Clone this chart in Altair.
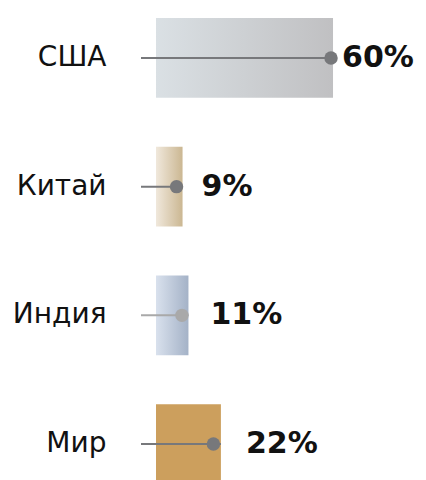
import altair as alt
import pandas as pd

categories = ["США", "Китай", "Индия", "Мир"]
values = [60, 9, 11, 22]
labels = ["60%", "9%", "11%", "22%"]

# per-row styles
bar_fills = [
    ("#dae0e4", "#c0c0c2"),
    ("#f0e8dc", "#cbb792"),
    ("#d9e1ed", "#a4b2c7"),
    ("#cc9f5d", "#cc9f5d"),
]
line_colors = ["#77787b", "#77787b", "#a9a9a9", "#77787b"]
dot_colors = ["#77787b", "#77787b", "#a9a9a9", "#77787b"]
dot_shift = [-2, -6, -6.5, -7.5]
label_shift = [9, 19, 22, 25]

df = pd.DataFrame({"cat": categories, "value": values, "label": labels})

x_scale = alt.Scale(domain=[0, 88.8], nice=False, zero=True)
y_enc = alt.Y(
    "cat:N",
    sort=categories,
    scale=alt.Scale(range=[0, 486], paddingInner=0.38, paddingOuter=0.078),
    axis=alt.Axis(
        title=None, ticks=False, tickSize=0, domain=False, grid=False,
        labelPadding=50, labelFontSize=28, labelFont="DejaVu Sans",
        labelColor="#111111", labelFontWeight="normal",
    ),
)

base = alt.Chart(df)
layers = []
for i, cat in enumerate(categories):
    c0, c1 = bar_fills[i]
    grad = alt.Gradient(
        gradient="linear",
        stops=[alt.GradientStop(color=c0, offset=0), alt.GradientStop(color=c1, offset=1)],
        x1=0, x2=1, y1=0, y2=0,
    )
    sub = base.transform_filter(alt.datum.cat == cat)
    layers.append(
        sub.mark_bar(color=grad).encode(
            x=alt.X("value:Q", scale=x_scale, axis=None), y=y_enc
        )
    )
for i, cat in enumerate(categories):
    sub = base.transform_filter(alt.datum.cat == cat)
    layers.append(
        sub.mark_rule(color=line_colors[i], strokeWidth=2).encode(
            x=alt.X("value:Q", scale=x_scale, axis=None), x2=alt.value(-15), y=y_enc
        )
    )
    layers.append(
        sub.mark_circle(size=180, color=dot_colors[i], opacity=1, xOffset=dot_shift[i]).encode(
            x=alt.X("value:Q", scale=x_scale, axis=None), y=y_enc
        )
    )
    layers.append(
        sub.mark_text(
            align="left", baseline="middle", font="DejaVu Sans", fontWeight="bold",
            fontSize=30, color="#111111", dx=label_shift[i],
        ).encode(x=alt.X("value:Q", scale=x_scale, axis=None), y=y_enc, text="label:N")
    )

chart = (
    alt.layer(*layers)
    .properties(
        width=262,
        height=480,
        autosize=alt.AutoSizeParams(type="none"),
        padding={"left": 148, "top": 0, "right": 0, "bottom": 0},
    )
    .configure_view(stroke=None)
)

chart.save("out.html", embed_options={"renderer": "svg", "actions": False})
